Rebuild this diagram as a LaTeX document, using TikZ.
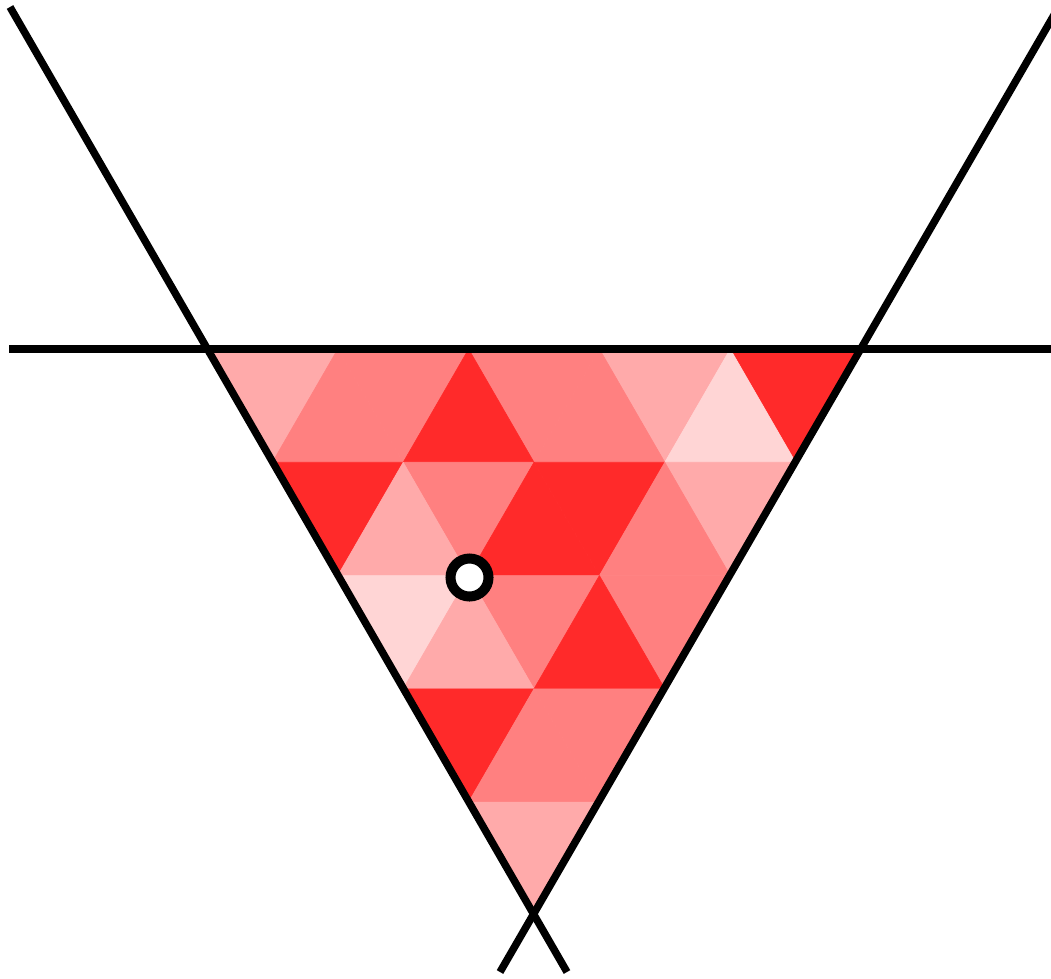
\documentclass[tikz,border=0pt]{standalone}
\definecolor{cA}{HTML}{FFD5D5}
\definecolor{cB}{HTML}{FFAAAA}
\definecolor{cC}{HTML}{FF8080}
\definecolor{cD}{HTML}{FF2A2A}
\newcommand\dtri[3]{\fill[#3,draw=#3,line width=0.6pt,line join=round]
  ({207+#1*65.4+#2*130.8},{349+#1*113.27}) --
  ({207+#1*65.4+(#2+1)*130.8},{349+#1*113.27}) --
  ({207+(#1+1)*65.4+#2*130.8},{349+(#1+1)*113.27}) -- cycle;}
\newcommand\utri[3]{\fill[#3,draw=#3,line width=0.6pt,line join=round]
  ({207+(#1+1)*65.4+#2*130.8},{349+(#1+1)*113.27}) --
  ({207+(#1+1)*65.4+(#2+1)*130.8},{349+(#1+1)*113.27}) --
  ({207+#1*65.4+(#2+1)*130.8},{349+#1*113.27}) -- cycle;}
\tikzset{bigline/.style={line width=7.5pt,black}}
\begin{document}
\begin{tikzpicture}[x=1pt,y=-1pt]
\useasboundingbox (0,0) rectangle (1051,978);
\clip (0,0) rectangle (1051,978);
% row 0
\dtri{0}{0}{cB}\dtri{0}{1}{cC}\dtri{0}{2}{cC}\dtri{0}{3}{cB}\dtri{0}{4}{cD}
\utri{0}{0}{cC}\utri{0}{1}{cD}\utri{0}{2}{cC}\utri{0}{3}{cA}
% row 1
\dtri{1}{0}{cD}\dtri{1}{1}{cC}\dtri{1}{2}{cD}\dtri{1}{3}{cB}
\utri{1}{0}{cB}\utri{1}{1}{cD}\utri{1}{2}{cC}
% row 2
\dtri{2}{0}{cA}\dtri{2}{1}{cC}\dtri{2}{2}{cC}
\utri{2}{0}{cB}\utri{2}{1}{cD}
% row 3
\dtri{3}{0}{cD}\dtri{3}{1}{cC}
\utri{3}{0}{cC}
% row 4
\dtri{4}{0}{cB}
% lines
\coordinate (L1) at (10,7);
\coordinate (L2) at (567,972);
\coordinate (R1) at (1065,-4);
\coordinate (R2) at (500,972);
\coordinate (H1) at (9,349);
\coordinate (H2) at (1060,349);
\draw[bigline] (H1) -- (H2);
\draw[bigline] (L1) -- (L2);
\draw[bigline] (R1) -- (R2);
\node[circle,draw=black,line width=10pt,fill=white,minimum size=38pt,inner sep=0pt] (pt) at (469.5,577.5) {};
\end{tikzpicture}
\end{document}
